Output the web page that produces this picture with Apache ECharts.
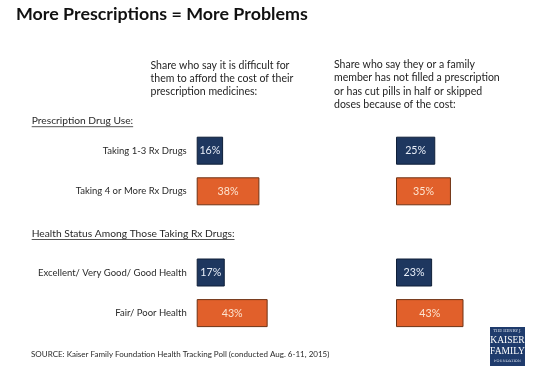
<!DOCTYPE html>
<html>
<head>
<meta charset="utf-8">
<script src="https://cdn.jsdelivr.net/npm/echarts@6/dist/echarts.min.js"></script>
<style>
html,body{margin:0;padding:0;background:#fff;}
#chart{width:553px;height:369px;}
</style>
</head>
<body>
<div id="chart"></div>
<script>
// ---- Data ----
const titleText = 'More Prescriptions = More Problems';
const columnHeaders = [
  'Share who say it is difficult for\nthem to afford the cost of their\nprescription medicines:',
  'Share who say they or a family\nmember has not filled a prescription\nor has cut pills in half or skipped\ndoses because of the cost:'
];
const sectionHeaders = ['Prescription Drug Use:', 'Health Status Among Those Taking Rx Drugs:'];
const categories = ['Taking 1-3 Rx Drugs', 'Taking 4 or More Rx Drugs', 'Excellent/ Very Good/ Good Health', 'Fair/ Poor Health'];
const difficultToAfford = [16, 38, 17, 43];
const skippedOrNotFilled = [25, 35, 23, 43];
const sourceText = 'SOURCE: Kaiser Family Foundation Health Tracking Poll (conducted Aug. 6-11, 2015)';

// ---- Styling helpers ----
const FONT = 'Lato';
const NAVY = '#1e375f', NAVY_BORDER = '#0f1f38';
const ORANGE = '#e1602b', ORANGE_BORDER = '#6e3214';
const cv = document.createElement('canvas').getContext('2d');
function measure(text, weight, size, family) {
  cv.font = weight + ' ' + size + 'px "' + family + '"';
  return cv.measureText(text).width;
}
function fit(text, weight, family, target) {
  return 100 * target / measure(text, weight, 100, family);
}
const titleSize = fit(titleText, 'bold', FONT, 292);
const headerSize = fit('member has not filled a prescription', 'normal', FONT, 166);
const labelSize = fit('Excellent/ Very Good/ Good Health', 'normal', FONT, 149);
const sectionSize = fit(sectionHeaders[1], 'normal', FONT, 203);
const sourceSize = fit(sourceText, 'normal', FONT, 299);
const barLabelSize = fit('16%', 'normal', FONT, 21);

// Build axis categories with a spacer slot between the two sections
const axisCats = [categories[0], categories[1], '', categories[2], categories[3]];
const kinds = ['navy', 'orange', null, 'navy', 'orange'];
function buildData(vals) {
  const v = [vals[0], vals[1], null, vals[2], vals[3]];
  return v.map((val, i) => {
    if (val == null) return null;
    const navy = kinds[i] === 'navy';
    return {
      value: val,
      itemStyle: {color: navy ? NAVY : ORANGE, borderColor: navy ? NAVY_BORDER : ORANGE_BORDER, borderWidth: 1},
      label: {color: navy ? '#e8eef8' : '#fde3cf'}
    };
  });
}

const gridTop = 130.4, gridH = 203, gridW = 165;
const grids = [
  {left: 196.7, top: gridTop, width: gridW, height: gridH},
  {left: 396, top: gridTop, width: gridW, height: gridH}
];
function xAx(i) { return {type: 'value', gridIndex: i, min: 0, max: 100, show: false}; }
function yAx(i, showLabels) {
  return {
    type: 'category', gridIndex: i, data: axisCats, inverse: true,
    axisLine: {show: false}, axisTick: {show: false}, splitLine: {show: false},
    axisLabel: {show: showLabels, margin: 10, fontFamily: FONT, fontSize: labelSize, color: '#2a2a2a'}
  };
}
function barSeries(i, vals) {
  return {
    type: 'bar', xAxisIndex: i, yAxisIndex: i, data: buildData(vals), barWidth: 28,
    label: {show: true, position: 'inside', formatter: '{c}%', fontFamily: FONT, fontSize: barLabelSize},
    silent: true, animation: false
  };
}

const graphics = [];
graphics.push({type: 'text', left: 16, top: 16 - titleSize * 0.62, style: {text: titleText, font: 'bold ' + titleSize + 'px "' + FONT + '"', fill: '#111'}});
[[150.5, 58.5], [334, 58]].forEach((p, i) => {
  graphics.push({type: 'text', x: p[0], y: p[1], style: {text: columnHeaders[i], fontFamily: FONT, fontSize: headerSize, lineHeight: 13.4, fill: '#1e1e1e', verticalAlign: 'top'}});
});
[[31.7, 120.7], [31.7, 233.5]].forEach((p, i) => {
  const w = measure(sectionHeaders[i], 'normal', sectionSize, FONT);
  graphics.push({type: 'text', x: p[0], y: p[1], style: {text: sectionHeaders[i], fontFamily: FONT, fontSize: sectionSize, fill: '#2a2a2a', verticalAlign: 'middle'}});
  graphics.push({type: 'line', shape: {x1: p[0], y1: p[1] + 6, x2: p[0] + w, y2: p[1] + 6}, style: {stroke: '#555', lineWidth: 1}});
});
graphics.push({type: 'text', x: 31, y: 354, style: {text: sourceText, fontFamily: FONT, fontSize: sourceSize, fill: '#2a2a2a', verticalAlign: 'middle'}});
// logo
graphics.push({type: 'rect', shape: {x: 490, y: 327, width: 35, height: 39}, style: {fill: '#1f3b6c'}});
graphics.push({type: 'text', x: 507.5, y: 331, style: {text: 'THE HENRY J.', font: '3.8px "DejaVu Serif"', fill: '#dfe6f0', align: 'center', verticalAlign: 'middle'}});
graphics.push({type: 'text', x: 507.5, y: 340.5, style: {text: 'KAISER', font: '9.5px "Liberation Serif"', fill: '#ffffff', align: 'center', verticalAlign: 'middle'}});
graphics.push({type: 'text', x: 507.5, y: 351, style: {text: 'FAMILY', font: '9.5px "Liberation Serif"', fill: '#ffffff', align: 'center', verticalAlign: 'middle'}});
graphics.push({type: 'text', x: 507.5, y: 361, style: {text: 'FOUNDATION', font: '3.6px "DejaVu Serif"', fill: '#dfe6f0', align: 'center', verticalAlign: 'middle'}});

const chart = echarts.init(document.getElementById('chart'), null, {renderer: 'canvas'});
chart.setOption({
  backgroundColor: '#ffffff',
  animation: false,
  grid: grids,
  xAxis: [xAx(0), xAx(1)],
  yAxis: [yAx(0, true), yAx(1, false)],
  series: [barSeries(0, difficultToAfford), barSeries(1, skippedOrNotFilled)],
  graphic: graphics
});
</script>
</body>
</html>
